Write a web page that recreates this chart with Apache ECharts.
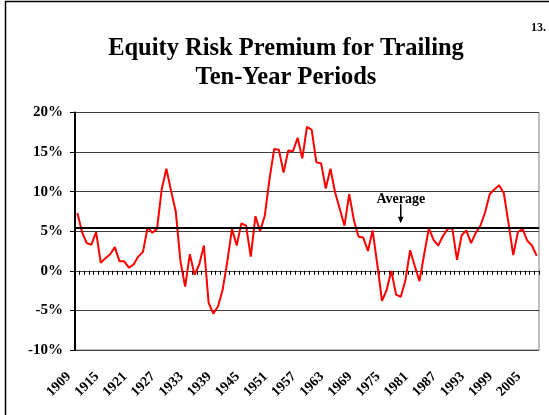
<!DOCTYPE html>
<html>
<head>
<meta charset="utf-8">
<script src="https://cdn.jsdelivr.net/npm/echarts@6/dist/echarts.min.js"></script>
<style>
html, body { margin: 0; padding: 0; background: #fff; }
#chart { width: 549px; height: 415px; }
</style>
</head>
<body>
<div id="chart"></div>
<script>
// years 1909 .. 2007, one point per trailing ten-year period
const years = []
for (let y = 1909; y <= 2007; y++) years.push(String(y))

// equity risk premium (%)
const premium = [
  7.3, 4.9, 3.5, 3.3, 4.9, 1.0, 1.6, 2.1, 3.0, 1.2,
  1.2, 0.4, 0.8, 1.8, 2.4, 5.5, 4.8, 5.3, 10.3, 12.9,
  10.1, 7.5, 1.2, -2.0, 2.1, -0.5, 0.8, 3.2, -4.0, -5.4,
  -4.5, -2.4, 1.2, 5.3, 3.2, 6.0, 5.7, 1.8, 6.9, 5.0,
  7.0, 11.6, 15.4, 15.3, 12.4, 15.2, 15.1, 16.8, 14.2, 18.2,
  17.8, 13.7, 13.6, 10.4, 12.9, 9.9, 7.8, 5.7, 9.7, 6.4,
  4.3, 4.2, 2.5, 5.1, 0.8, -3.8, -2.4, 0.0, -3.0, -3.3,
  -1.2, 2.6, 0.6, -1.3, 2.1, 5.4, 3.9, 3.2, 4.4, 5.3,
  5.4, 1.4, 4.5, 5.1, 3.5, 4.8, 5.7, 7.4, 9.7, 10.3,
  10.8, 9.8, 6.0, 2.0, 4.9, 5.3, 3.8, 3.2, 1.9
]

// average line and where the arrow points
const average = 5.5
const arrowYear = '1978'

// y axis range
const yMin = -10
const yMax = 20
const yStep = 5

const serif = 'Liberation Serif'

const chart = echarts.init(document.getElementById('chart'))

const option = {
  animation: false,
  title: {
    text: 'Equity Risk Premium for Trailing\nTen-Year Periods',
    left: 281,
    top: 29,
    textAlign: 'center',
    textStyle: {
      fontFamily: serif,
      fontWeight: 'bold',
      fontSize: 24.5,
      lineHeight: 29,
      color: '#000'
    }
  },
  grid: {
    left: 75,
    right: 10,
    top: 112.5,
    bottom: 65,
    outerBoundsMode: 'none',
    show: true,
    borderColor: '#808080',
    borderWidth: 1
  },
  xAxis: {
    type: 'category',
    data: years,
    boundaryGap: true,
    axisLine: { onZero: true, lineStyle: { color: '#404040', width: 1 } },
    axisTick: { show: true, interval: 0, length: 4, lineStyle: { color: '#000', width: 1 } },
    axisLabel: {
      interval: 5,
      rotate: 45,
      margin: 16,
      padding: [0, 12, 0, 0],
      fontFamily: serif,
      fontWeight: 'bold',
      fontSize: 14,
      color: '#000'
    },
    splitLine: { show: false }
  },
  yAxis: {
    type: 'value',
    min: yMin,
    max: yMax,
    interval: yStep,
    axisLine: { show: true, lineStyle: { color: '#000', width: 2 } },
    axisTick: { show: true, length: 5, lineStyle: { color: '#000' } },
    axisLabel: {
      formatter: '{value}%',
      margin: 12,
      fontFamily: serif,
      fontWeight: 'bold',
      fontSize: 15,
      color: '#000'
    },
    splitLine: { lineStyle: { color: '#404040', width: 1 } }
  },
  series: [
    {
      type: 'line',
      data: premium,
      showSymbol: false,
      lineStyle: { color: '#ff0000', width: 2 },
      markLine: {
        silent: true,
        symbol: 'none',
        label: { show: false },
        lineStyle: { color: '#000', width: 2, type: 'solid' },
        data: [{ yAxis: average }]
      }
    }
  ]
}
chart.setOption(option)

// "Average" note with arrow, placed from the axis scales
const p = chart.convertToPixel({ seriesIndex: 0 }, [arrowYear, average])
chart.setOption({
  graphic: [
    {
      type: 'rect',
      shape: { x: 5.5, y: 1.5, width: 700, height: 600 },
      style: { fill: 'none', stroke: '#000', lineWidth: 1.5 },
      silent: true
    },
    {
      type: 'text',
      x: 546,
      y: 28,
      style: { text: '13.', font: 'bold 12px "Liberation Serif"', fill: '#000', align: 'right', verticalAlign: 'middle' }
    },
    {
      type: 'text',
      x: p[0],
      y: p[1] - 27.5,
      style: { text: 'Average', font: 'bold 14px "Liberation Serif"', fill: '#000', align: 'center', verticalAlign: 'middle' }
    },
    {
      type: 'line',
      shape: { x1: p[0], y1: p[1] - 23, x2: p[0], y2: p[1] - 10 },
      style: { stroke: '#000', lineWidth: 1.5 }
    },
    {
      type: 'polygon',
      shape: { points: [[p[0] - 2.8, p[1] - 10.5], [p[0] + 2.8, p[1] - 10.5], [p[0], p[1] - 4]] },
      style: { fill: '#000' }
    }
  ]
})
</script>
</body>
</html>
